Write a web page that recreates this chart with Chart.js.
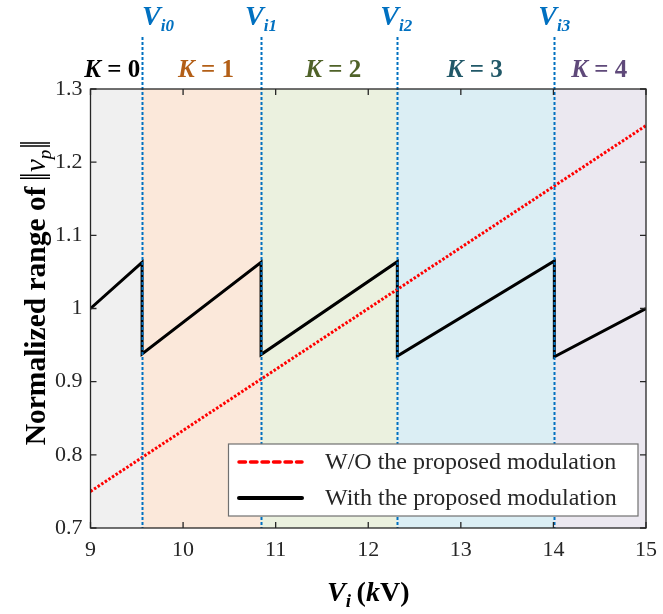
<!DOCTYPE html>
<html>
<head>
<meta charset="utf-8">
<script src="https://cdn.jsdelivr.net/npm/chart.js@4.4.0/dist/chart.umd.min.js"></script>
<style>
  html, body { margin: 0; padding: 0; background: #fff; }
  #wrap { width: 663px; height: 614px; position: relative; }
</style>
</head>
<body>
<div id="wrap"><canvas id="chart"></canvas></div>
<script>
// ---------------- DATA ----------------
const xTicks = [9, 10, 11, 12, 13, 14, 15];
const yTicks = [0.7, 0.8, 0.9, 1.0, 1.1, 1.2, 1.3];

// switching voltages V_i0..V_i3 (kV)
const viValues = [9.557, 10.842, 12.314, 14.01];
const viNames = ["i0", "i1", "i2", "i3"];

// K regions
const kNames = ["0", "1", "2", "3", "4"];
const kEdges = [9, 9.557, 10.842, 12.314, 14.01, 15];

// W/O the proposed modulation
const woX = [9, 15];
const woY = [0.75, 1.25];

// With the proposed modulation (sawtooth)
const withX = [9, 9.557, 9.557, 10.842, 10.842, 12.314, 12.314, 14.01, 14.01, 15];
const withY = [1.0, 1.063, 0.938, 1.063, 0.937, 1.064, 0.935, 1.065, 0.934, 1.0];

const seriesNames = ["W/O the proposed modulation", "With the proposed modulation"];

// ---------------- STYLE ----------------
const SERIF = "'Liberation Serif', 'Times New Roman', serif";
const bandColors = ["#f0f0f0", "#fbe8da", "#ebf1df", "#dbeef4", "#ebe8f0"];
const kColors = ["#000000", "#b35f17", "#4f6228", "#215868", "#5f497a"];
const blue = "#0070c0";
const axisColor = "#262626";

function toPts(xs, ys) {
    return xs.map((x, i) => ({ x, y: ys[i] }));
}

// draws a run of [text, font, dy, color] pieces
function drawPieces(ctx, pieces, x, y, align) {
    let total = 0;
    pieces.forEach(p => { ctx.font = p[1]; total += ctx.measureText(p[0]).width; });
    let cx = align === "center" ? x - total / 2 : x;
    ctx.textAlign = "left";
    ctx.textBaseline = "alphabetic";
    pieces.forEach(p => {
        ctx.font = p[1];
        ctx.fillStyle = p[3] || "#000";
        ctx.fillText(p[0], cx, y + (p[2] || 0));
        cx += ctx.measureText(p[0]).width;
    });
}

// ---------------- PLUGINS ----------------
const bands = {
    id: "bands",
    beforeDatasetsDraw(chart) {
        const { ctx, chartArea: a, scales: { x } } = chart;
        ctx.save();
        for (let i = 0; i < kEdges.length - 1; i++) {
            const x0 = x.getPixelForValue(kEdges[i]);
            const x1 = x.getPixelForValue(kEdges[i + 1]);
            ctx.fillStyle = bandColors[i];
            ctx.fillRect(x0, a.top, x1 - x0, a.bottom - a.top);
        }
        ctx.restore();
    }
};

const decor = {
    id: "decor",
    afterDatasetsDraw(chart) {
        const { ctx, chartArea: a, scales: { x, y } } = chart;
        ctx.save();

        // vertical dotted lines at V_ik
        ctx.strokeStyle = blue;
        ctx.lineWidth = 2;
        ctx.setLineDash([3, 2]);
        viValues.forEach(v => {
            const px = Math.round(x.getPixelForValue(v)) + 0.5;
            ctx.beginPath();
            ctx.moveTo(px, 37);
            ctx.lineTo(px, a.bottom);
            ctx.stroke();
        });
        ctx.setLineDash([]);

        // box
        ctx.strokeStyle = axisColor;
        ctx.lineWidth = 1.3;
        ctx.strokeRect(a.left, a.top, a.right - a.left, a.bottom - a.top);

        // inward ticks, mirrored
        const tl = 6;
        ctx.beginPath();
        xTicks.forEach(t => {
            const px = x.getPixelForValue(t);
            ctx.moveTo(px, a.bottom); ctx.lineTo(px, a.bottom - tl);
            ctx.moveTo(px, a.top); ctx.lineTo(px, a.top + tl);
        });
        yTicks.forEach(t => {
            const py = y.getPixelForValue(t);
            ctx.moveTo(a.left, py); ctx.lineTo(a.left + tl, py);
            ctx.moveTo(a.right, py); ctx.lineTo(a.right - tl, py);
        });
        ctx.stroke();

        // V_ik labels
        const viOffsets = [0, -16, -17, -16];
        viValues.forEach((v, i) => {
            const px = x.getPixelForValue(v) + viOffsets[i];
            drawPieces(ctx, [
                ["V", "italic bold 28px " + SERIF, 0, blue],
                [viNames[i], "italic bold 17px " + SERIF, 6, blue]
            ], px, 25, "left");
        });

        // K labels
        const kOffsets = [-4, 4.5, 4, -1, -1];
        for (let i = 0; i < kNames.length; i++) {
            const cx = (x.getPixelForValue(kEdges[i]) + x.getPixelForValue(kEdges[i + 1])) / 2 + kOffsets[i];
            drawPieces(ctx, [
                ["K", "italic bold 25px " + SERIF, 0, kColors[i]],
                [" = " + kNames[i], "bold 25px " + SERIF, 0, kColors[i]]
            ], cx, 77, "center");
        }

        // legend
        const lx = 228.5, ly = 444, lw = 409.5, lh = 72;
        ctx.fillStyle = "#fff";
        ctx.fillRect(lx, ly, lw, lh);
        ctx.strokeStyle = "#707070";
        ctx.lineWidth = 1.2;
        ctx.strokeRect(lx, ly, lw, lh);

        ctx.lineCap = "round";
        ctx.strokeStyle = "#ff0000";
        ctx.lineWidth = 3.5;
        ctx.setLineDash([6.5, 5]);
        ctx.beginPath(); ctx.moveTo(239, 462); ctx.lineTo(302, 462); ctx.stroke();
        ctx.setLineDash([]);
        ctx.strokeStyle = "#000";
        ctx.lineWidth = 4;
        ctx.beginPath(); ctx.moveTo(239, 498); ctx.lineTo(302, 498); ctx.stroke();
        ctx.lineCap = "butt";

        ctx.fillStyle = axisColor;
        ctx.font = "24px " + SERIF;
        ctx.textAlign = "left";
        ctx.textBaseline = "alphabetic";
        ctx.fillText(seriesNames[0], 325, 469);
        ctx.fillText(seriesNames[1], 325, 505);

        // x axis title
        const xc = (a.left + a.right) / 2;
        drawPieces(ctx, [
            ["V", "italic bold 28px " + SERIF, 0, "#000"],
            ["i", "italic bold 19px " + SERIF, 6, "#000"],
            ["\u2009(", "bold 28px " + SERIF, 0, "#000"],
            ["k", "italic bold 28px " + SERIF, 0, "#000"],
            ["V)", "bold 28px " + SERIF, 0, "#000"]
        ], xc, 601, "center");

        // y axis title (rotated)
        ctx.translate(45, 294);
        ctx.rotate(-Math.PI / 2);
        const mainTxt = "Normalized range of ";
        const fMain = "bold 29.5px " + SERIF;
        const fV = "italic 29px " + SERIF;
        const fP = "italic 19px " + SERIF;
        ctx.font = fMain; const wMain = ctx.measureText(mainTxt).width;
        ctx.font = fV; const wV = ctx.measureText("v").width;
        ctx.font = fP; const wP = ctx.measureText("p").width;
        const barW = 4, gap = 3;
        const total = wMain + barW + gap + wV + wP + gap + barW;
        let u = -total / 2;
        ctx.fillStyle = "#000";
        ctx.font = fMain; ctx.fillText(mainTxt, u, 0); u += wMain;
        const bars = (u0) => {
            ctx.strokeStyle = "#000";
            ctx.lineWidth = 1.5;
            ctx.beginPath();
            ctx.moveTo(u0 + 0.75, -25); ctx.lineTo(u0 + 0.75, 5);
            ctx.moveTo(u0 + 3.75, -25); ctx.lineTo(u0 + 3.75, 5);
            ctx.stroke();
        };
        bars(u); u += barW + gap;
        ctx.font = fV; ctx.fillText("v", u, 0); u += wV;
        ctx.font = fP; ctx.fillText("p", u, 6); u += wP + gap;
        bars(u);

        ctx.restore();
    }
};

// ---------------- CHART ----------------
const chart = new Chart(document.getElementById("chart"), {
    type: "scatter",
    data: {
        datasets: [
            {
                label: seriesNames[0],
                data: toPts(woX, woY),
                showLine: true,
                borderColor: "#ff0000",
                borderWidth: 3,
                borderDash: [2.5, 1.8],
                pointRadius: 0,
                fill: false
            },
            {
                label: seriesNames[1],
                data: toPts(withX, withY),
                showLine: true,
                borderColor: "#000000",
                borderWidth: 3,
                pointRadius: 0,
                fill: false
            }
        ]
    },
    options: {
        responsive: true,
        maintainAspectRatio: false,
        animation: false,
        layout: { padding: { top: 89, right: 17, left: 0, bottom: 0 } },
        plugins: {
            legend: { display: false },
            tooltip: { enabled: false }
        },
        scales: {
            x: {
                type: "linear",
                min: 9,
                max: 15,
                afterFit(s) { s.height = 86; s.paddingLeft = 0; s.paddingRight = 0; },
                afterBuildTicks(s) { s.ticks = xTicks.map(v => ({ value: v })); },
                grid: { display: false, drawTicks: false },
                border: { display: false },
                ticks: {
                    padding: 9,
                    color: axisColor,
                    font: { family: SERIF, size: 22 },
                    callback: v => String(v)
                }
            },
            y: {
                type: "linear",
                min: 0.7,
                max: 1.3,
                afterFit(s) { s.width = 90.5; s.paddingTop = 0; s.paddingBottom = 0; },
                afterBuildTicks(s) { s.ticks = yTicks.map(v => ({ value: v })); },
                grid: { display: false, drawTicks: false },
                border: { display: false },
                ticks: {
                    padding: 8,
                    color: axisColor,
                    font: { family: SERIF, size: 22 },
                    callback: v => String(+v.toFixed(1))
                }
            }
        }
    },
    plugins: [bands, decor]
});
</script>
</body>
</html>
